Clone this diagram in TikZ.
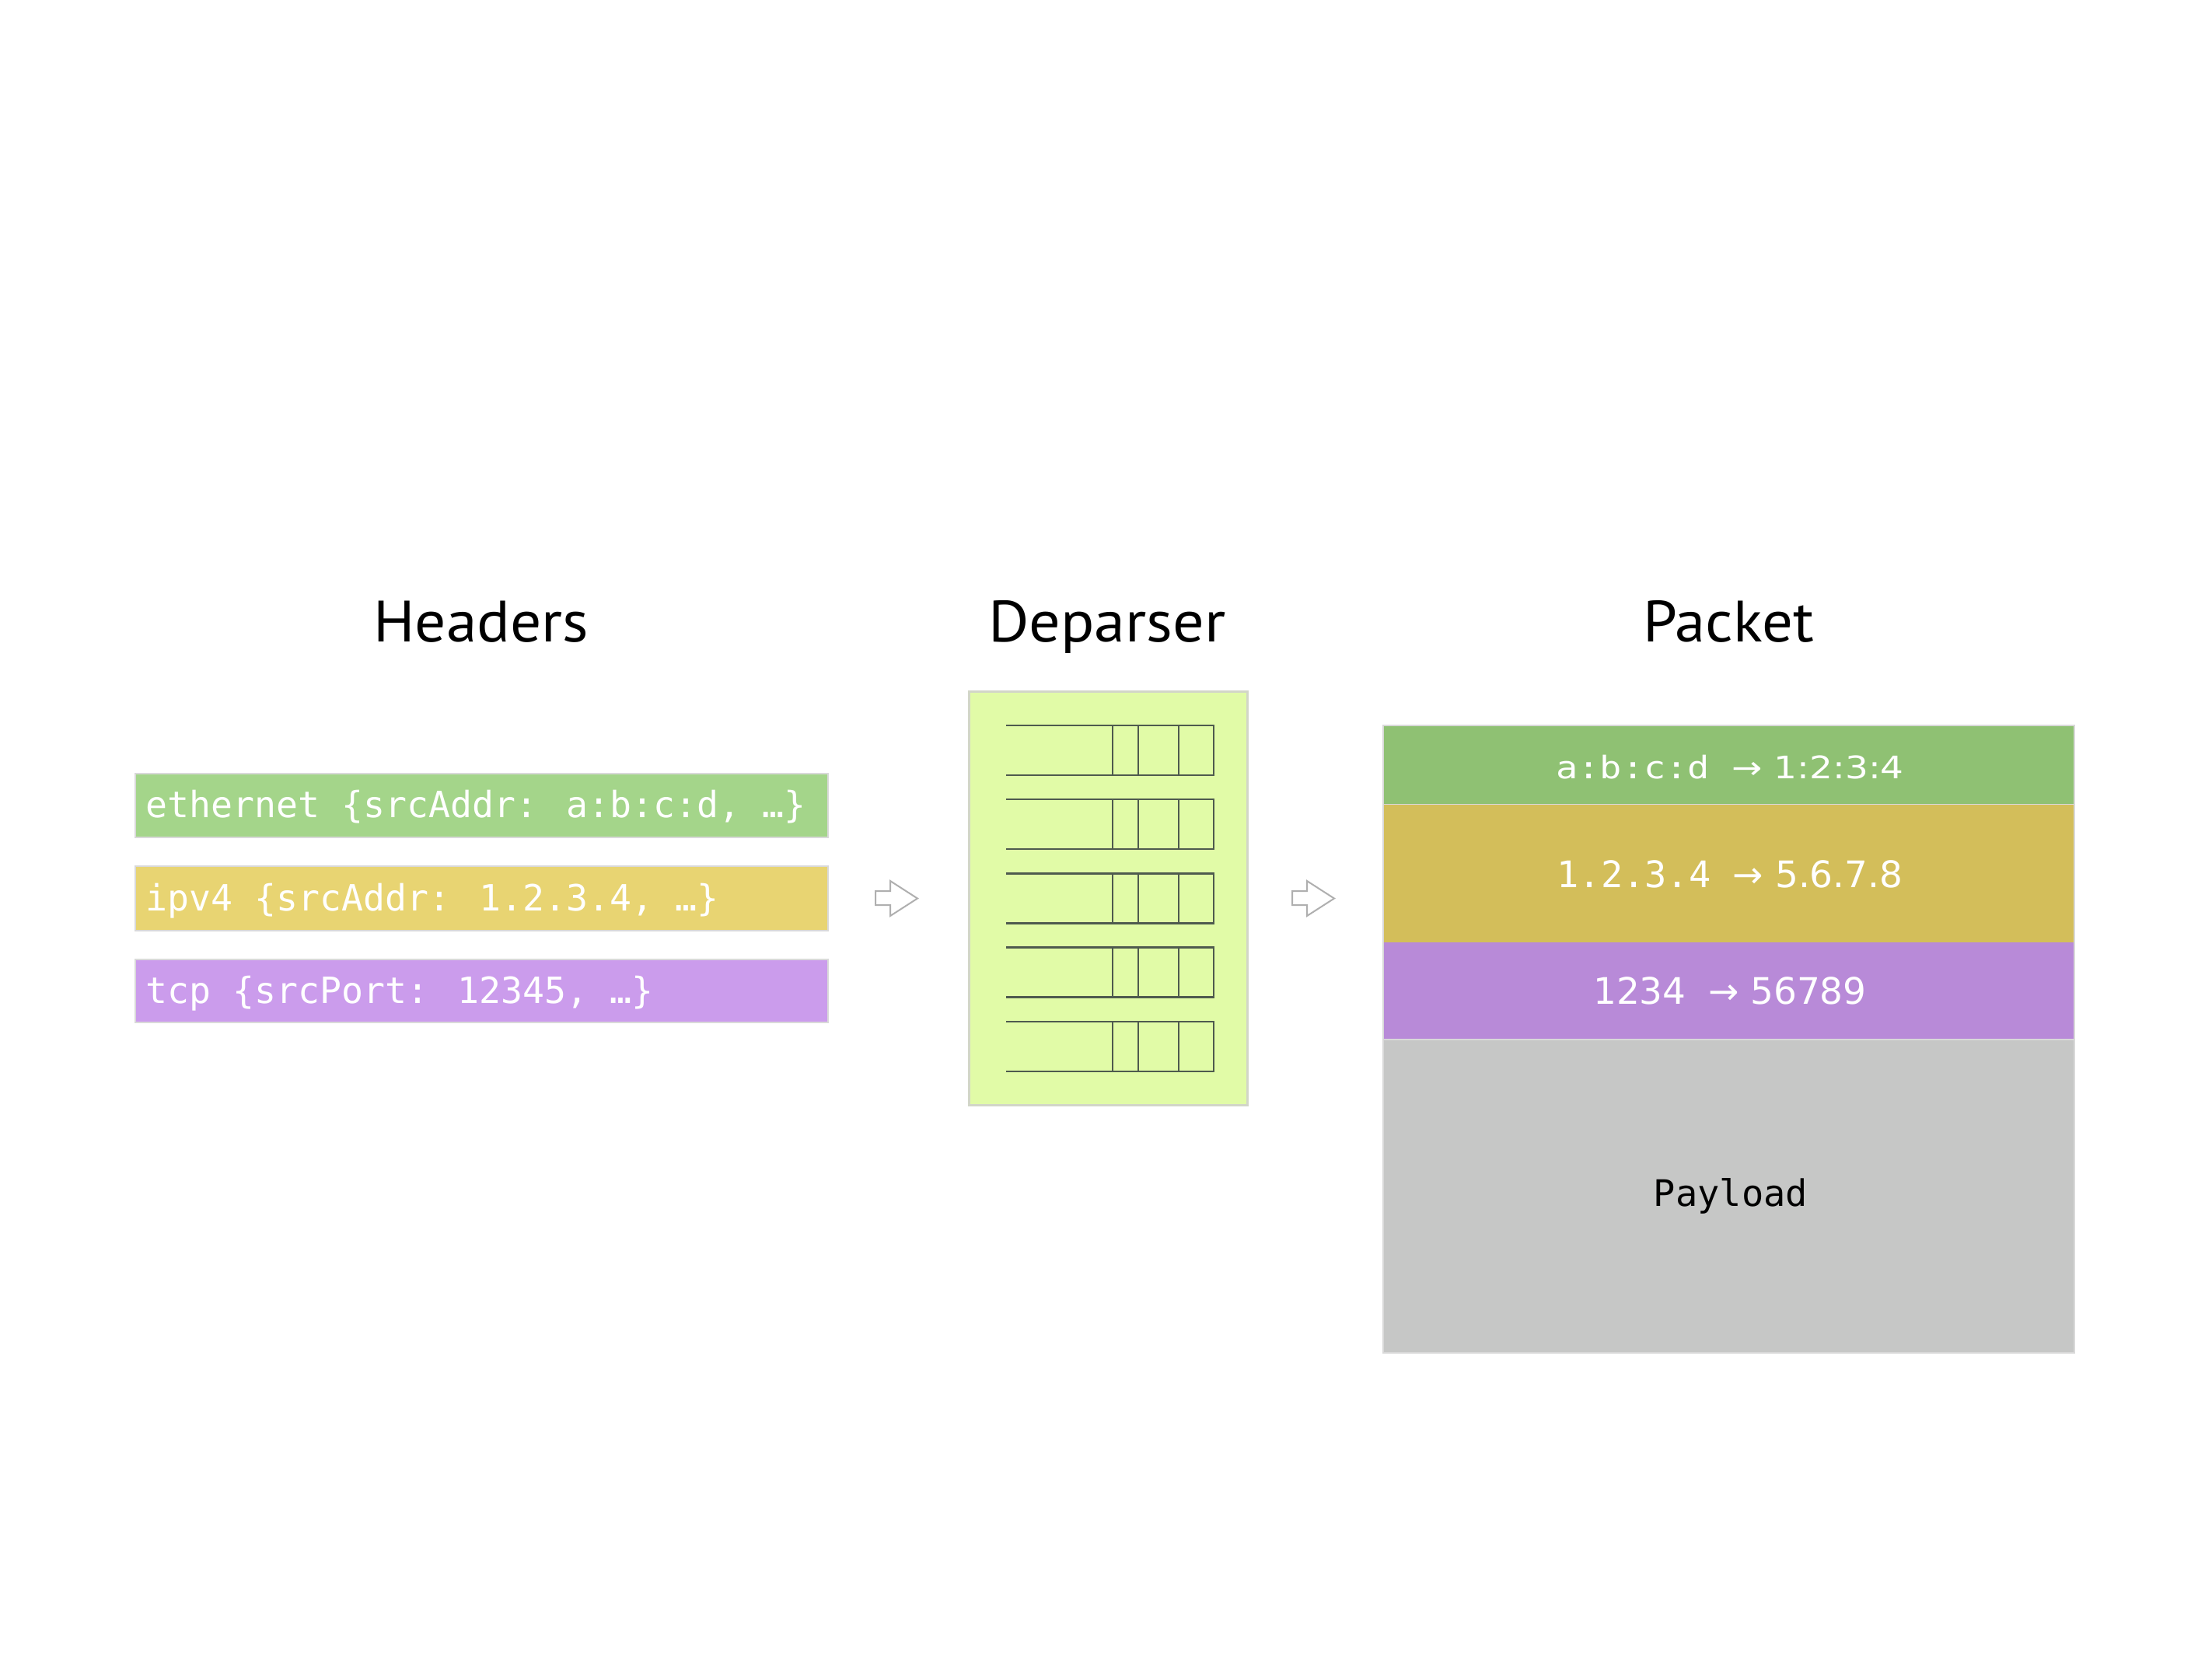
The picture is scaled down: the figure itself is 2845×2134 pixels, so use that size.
\documentclass[tikz,border=0pt]{standalone}
\usepackage{fontspec}
\setmainfont{DejaVu Sans}
\newfontfamily\monof{DejaVu Sans Mono}
\newfontfamily\titlef{PT Sans}
\definecolor{hgreen}{HTML}{A4D58A}
\definecolor{hyellow}{HTML}{E8D472}
\definecolor{hpurple}{HTML}{CB9CEC}
\definecolor{pgreen}{HTML}{8FC173}
\definecolor{pyellow}{HTML}{D3BE5A}
\definecolor{ppurple}{HTML}{B88AD8}
\definecolor{pgray}{HTML}{C6C7C6}
\definecolor{dfill}{HTML}{E1FBA7}
\definecolor{dline}{HTML}{4E5A4E}
\definecolor{hborder}{HTML}{D9D9D9}
\definecolor{dborder}{HTML}{D2D6C8}
\definecolor{arrowgray}{HTML}{AFAFAF}
\tikzset{
  boxnode/.style={draw=hborder, line width=2pt, inner sep=0pt, outer sep=0pt, anchor=north west},
  hdrtext/.style={anchor=base west, inner sep=0pt, text=white, font=\monof\fontsize{46.5}{56}\selectfont},
  pkttext/.style={anchor=base, inner sep=0pt, text=white, font=\fontsize{47}{56}\selectfont},
  titletext/.style={anchor=base, inner sep=0pt, font=\titlef\fontsize{75}{88}\selectfont},
  dpline/.style={draw=dline, line width=2.8pt},
  blockarrow/.style={draw=arrowgray, fill=white, line width=2pt, line join=miter}
}
\begin{document}
\begin{tikzpicture}[x=1pt,y=-1pt]
\useasboundingbox (0,0) rectangle (2845,2134);
\fill[white] (0,0) rectangle (2845,2134);

% titles
\node[titletext] (tHeaders) at (619,825) {\scalebox{1.06}[1]{Headers}};
\node[titletext] (tDeparser) at (1424,825) {\scalebox{1.07}[1]{Deparser}};
\node[titletext] (tPacket) at (2223,825) {\scalebox{1.05}[1]{Packet}};

% header boxes
\node[boxnode, fill=hgreen, minimum width=891pt, minimum height=82pt] (hEth) at (174,995) {};
\node[boxnode, fill=hyellow, minimum width=891pt, minimum height=83pt] (hIp) at (174,1114) {};
\node[boxnode, fill=hpurple, minimum width=891pt, minimum height=81pt] (hTcp) at (174,1234) {};
\node[hdrtext] (hEthT) at (187,1051.7) {ethernet \{srcAddr: a:b:c:d, …\}};
\node[hdrtext] (hIpT) at (187,1171.7) {ipv4 \{srcAddr: 1.2.3.4, …\}};
\node[hdrtext] (hTcpT) at (187,1290) {tcp \{srcPort: 12345, …\}};

% block arrows
\draw[blockarrow] (1126,1146) -- (1145,1146) -- (1145,1133) -- (1180,1155.5) -- (1145,1178) -- (1145,1164) -- (1126,1164) -- cycle;
\draw[blockarrow] (1662,1146) -- (1681,1146) -- (1681,1133) -- (1716,1155.5) -- (1681,1178) -- (1681,1164) -- (1662,1164) -- cycle;

% deparser
\node[draw=dborder, line width=3pt, fill=dfill, inner sep=0pt, outer sep=0pt, anchor=north west, minimum width=358pt, minimum height=532pt] (dep) at (1246,889) {};
\foreach \t in {933,1028,1123.5,1218.5,1314} {
  \draw[dpline] (1294,\t) -- (1561,\t) -- (1561,\t+64) -- (1294,\t+64);
  \foreach \x in {1431,1464,1516} \draw[dpline] (\x,\t) -- (\x,\t+64);
}

% packet
\node[boxnode, draw=hborder, line width=1.5pt, fill=pgreen, minimum width=889pt, minimum height=102pt] (pEth) at (1779,933) {};
\node[boxnode, draw=none, fill=pyellow, minimum width=889pt, minimum height=177pt] (pIp) at (1779,1035) {};
\node[boxnode, draw=none, fill=ppurple, minimum width=889pt, minimum height=125pt] (pTcp) at (1779,1212) {};
\node[boxnode, draw=hborder, line width=1.5pt, fill=pgray, minimum width=889pt, minimum height=403pt] (pPay) at (1779,1337) {};
\draw[draw=hborder, line width=1.5pt] (1779,933) rectangle (2668,1740);

\node[pkttext] (pEthT) at (2225,1001.7) {\scalebox{1}[0.85]{{\monof a:b:c:d\ }→ 1:2:3:4}};
\node[pkttext] (pIpT) at (2225,1141.7) {{\monof 1.2.3.4\ }→ 5.6.7.8};
\node[pkttext] (pTcpT) at (2225,1291.7) {1234{\monof\ }→ 56789};
\node[pkttext, text=black, font=\monof\fontsize{47}{56}\selectfont] (pPayT) at (2226,1551.7) {Payload};
\end{tikzpicture}
\end{document}
